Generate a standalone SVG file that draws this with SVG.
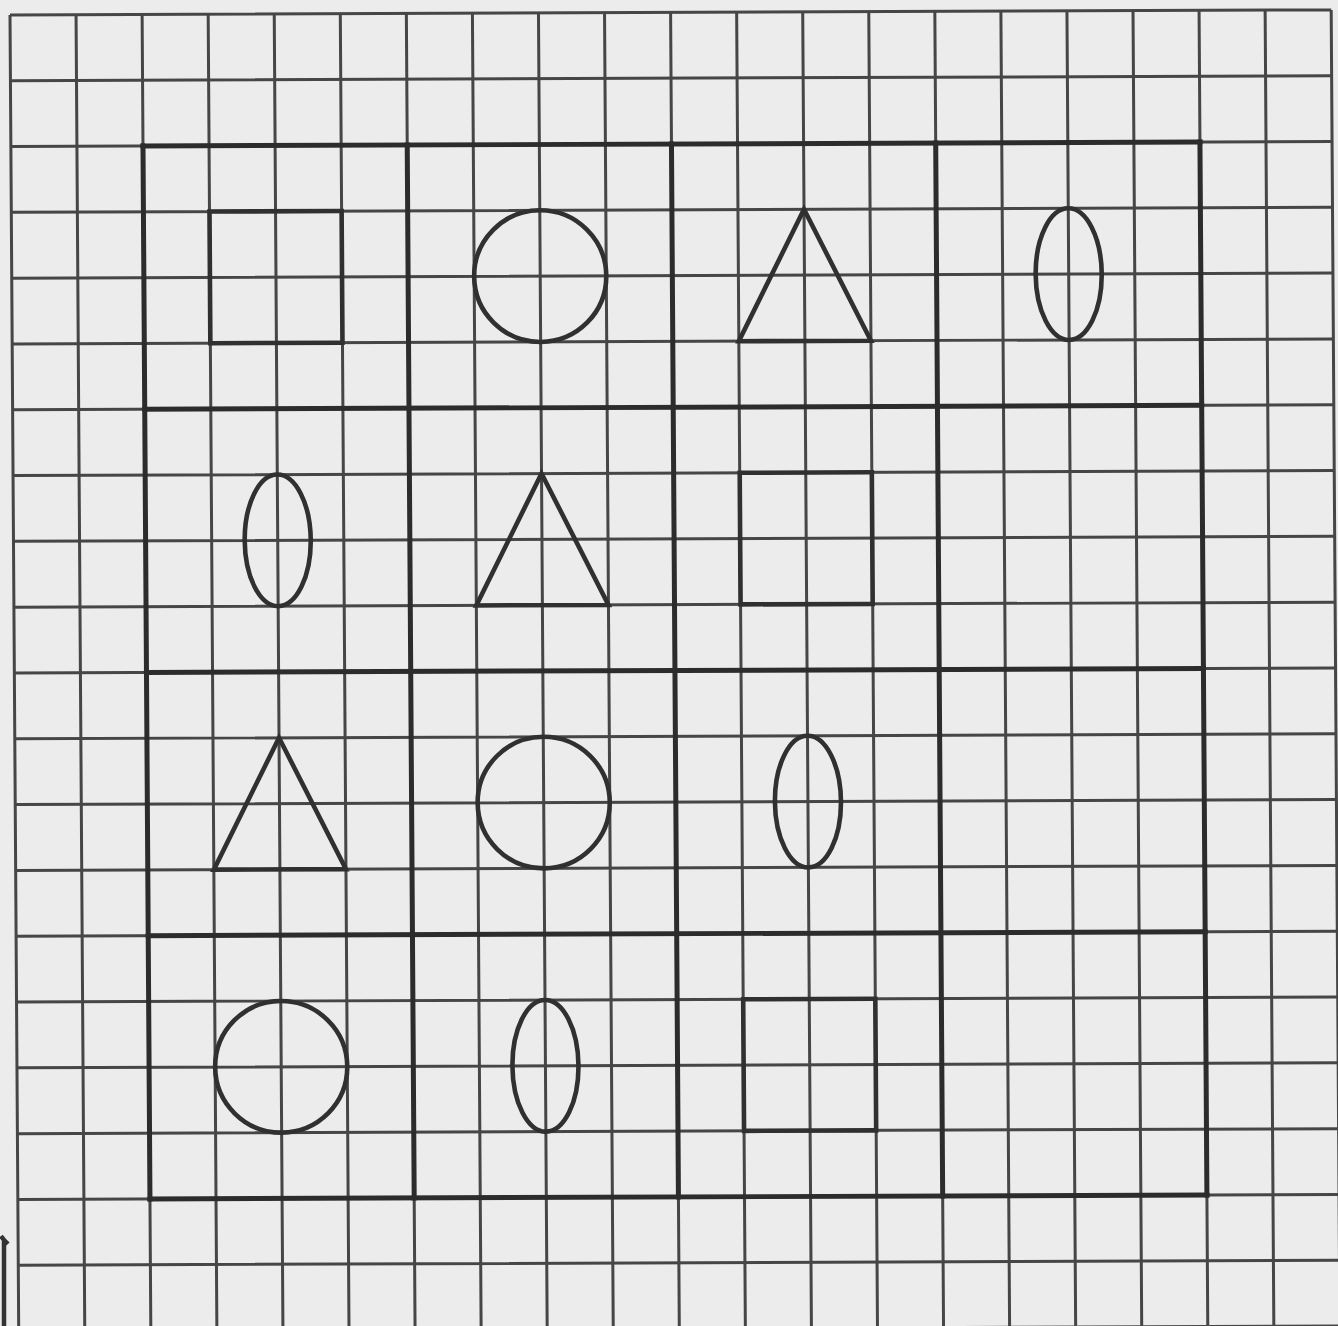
<svg xmlns="http://www.w3.org/2000/svg" width="1338" height="1326" viewBox="0 0 1338 1326">
<style>
.fine{fill:none;stroke:#464646;stroke-width:3}
.thick{fill:none;stroke:#2c2c2c;stroke-width:5;stroke-linecap:square}
.shape{fill:none;stroke:#303030;stroke-width:4.6;stroke-linejoin:miter}
</style>
<rect x="0" y="0" width="1338" height="1326" fill="#ececec"/>
<g transform="matrix(1.0009 -0.0038 0.0066 0.9971 10 14.9)">
<g id="fine-grid" class="fine">
<path d="M0 0V1335M66 0V1335M132 0V1335M198 0V1335M264 0V1335M330 0V1335M396 0V1335M462 0V1335M528 0V1335M594 0V1335M660 0V1335M726 0V1335M792 0V1335M858 0V1335M924 0V1335M990 0V1335M1056 0V1335M1122 0V1335M1188 0V1335M1254 0V1335M1320 0V1335"/>
<path d="M0 0H1320M0 66H1320M0 132H1320M0 198H1320M0 264H1320M0 330H1320M0 396H1320M0 462H1320M0 528H1320M0 594H1320M0 660H1320M0 726H1320M0 792H1320M0 858H1320M0 924H1320M0 990H1320M0 1056H1320M0 1122H1320M0 1188H1320M0 1254H1320M0 1320H1320"/>
</g>
<g id="board" class="thick">
<path d="M132 132V1188M396 132V1188M660 132V1188M924 132V1188M1188 132V1188"/>
<path d="M132 132H1188M132 396H1188M132 660H1188M132 924H1188M132 1188H1188"/>
</g>
<g id="r1c1-square"><rect class="shape" x="198" y="198" width="132" height="132"/></g>
<g id="r1c2-circle"><circle class="shape" cx="528" cy="264" r="66"/></g>
<g id="r1c3-triangle"><path class="shape" d="M792 198L726 330H858Z"/></g>
<g id="r1c4-ellipse"><ellipse class="shape" cx="1056" cy="264" rx="33" ry="66"/></g>
<g id="r2c1-ellipse"><ellipse class="shape" cx="264" cy="528" rx="33" ry="66"/></g>
<g id="r2c2-triangle"><path class="shape" d="M528 462L462 594H594Z"/></g>
<g id="r2c3-square"><rect class="shape" x="726" y="462" width="132" height="132"/></g>
<g id="r3c1-triangle"><path class="shape" d="M264 726L198 858H330Z"/></g>
<g id="r3c2-circle"><circle class="shape" cx="528" cy="792" r="66"/></g>
<g id="r3c3-ellipse"><ellipse class="shape" cx="792" cy="792" rx="33" ry="66"/></g>
<g id="r4c1-circle"><circle class="shape" cx="264" cy="1056" r="66"/></g>
<g id="r4c2-ellipse"><ellipse class="shape" cx="528" cy="1056" rx="33" ry="66"/></g>
<g id="r4c3-square"><rect class="shape" x="726" y="990" width="132" height="132"/></g>
</g>
<path d="M4 1326V1240L1 1236M4 1240L8 1244" fill="none" stroke="#333" stroke-width="4.5"/>
</svg>
